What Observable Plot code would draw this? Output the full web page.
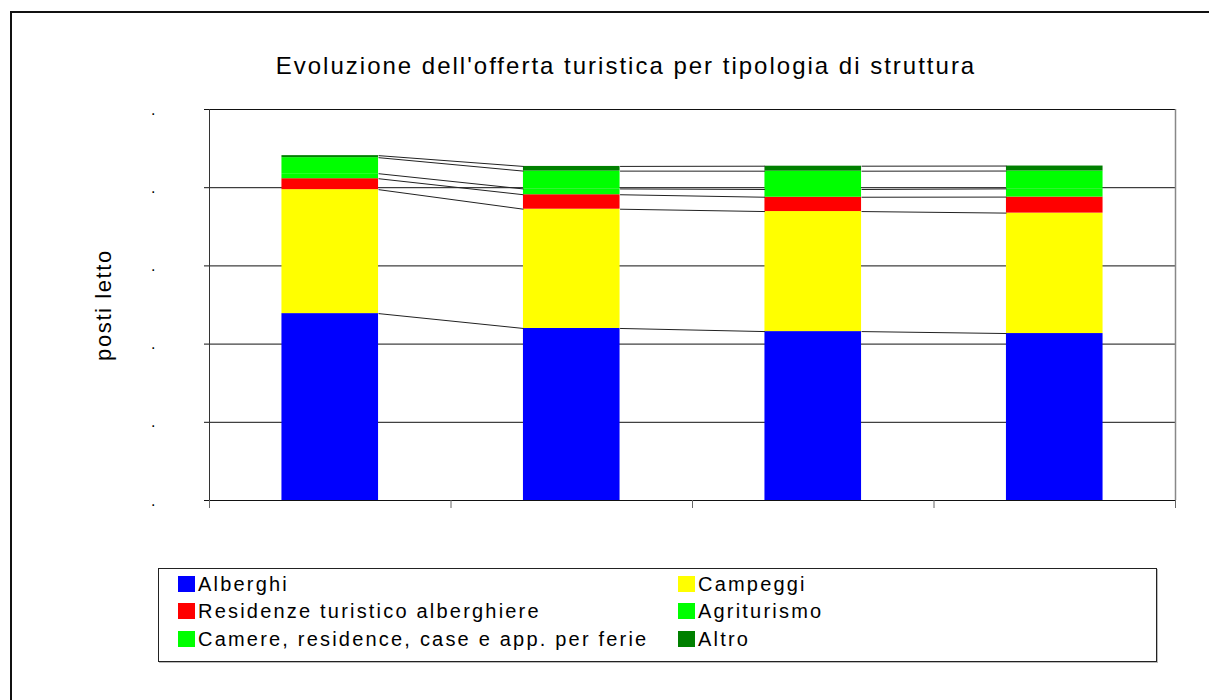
<!DOCTYPE html>
<html><head><meta charset="utf-8">
<script src="https://cdn.jsdelivr.net/npm/d3@7"></script>
<script src="https://cdn.jsdelivr.net/npm/@observablehq/plot@0.6"></script>
<style>
html,body{margin:0;padding:0}
body{width:1209px;height:700px;overflow:hidden;background:#fff;font-family:"Liberation Sans",Arial,sans-serif;position:relative}
#frame{position:absolute;left:10px;top:11px;width:1240px;height:740px;border:2px solid #111;box-sizing:border-box}
#title{position:absolute;left:0;width:1252px;top:51px;text-align:center;font-size:24px;letter-spacing:2px;color:#000;line-height:30px}
#chart{position:absolute;left:0;top:95px}
#legend{position:absolute;left:158px;top:568px;width:999px;height:94px;border:1px solid #222;box-shadow:1px 1px 0 #bbb;box-sizing:border-box}
.item{position:absolute;height:24px;line-height:24px;font-size:20px;letter-spacing:2.2px;color:#000;white-space:nowrap}
.sw{position:absolute;width:17px;height:16px}
</style></head>
<body>
<div id="frame"></div>
<div id="title">Evoluzione dell'offerta turistica per tipologia di struttura</div>
<div id="chart"></div>
<div id="legend"></div>
<script>
// ---- data ----
const periods = ["P1", "P2", "P3", "P4"];
const series = ["Alberghi", "Campeggi", "Residenze turistico alberghiere", "Agriturismo", "Camere, residence, case e app. per ferie", "Altro"];
const colors = ["#0000FF", "#FFFF00", "#FF0000", "#00FF00", "#00FF00", "#008000"];
const alberghi    = [23900, 22000, 21600, 21350];
const campeggi    = [15850, 15250, 15350, 15400];
const residenze   = [1400, 1850, 1830, 2050];
const agriturismo = [640, 740, 990, 1050];
const camere      = [2050, 2280, 2340, 2280];
const altro       = [260, 600, 640, 640];
const yTicks = [0, 10000, 20000, 30000, 40000, 50000];
const yTickLabel = ".";
const yLabel = "posti letto";

const values = [alberghi, campeggi, residenze, agriturismo, camere, altro];

// stacked rows
const half = 0.2;
const rows = [];
const tops = series.map(() => []);
periods.forEach((p, i) => {
  let acc = 0;
  series.forEach((s, k) => {
    const v = values[k][i];
    rows.push({period: p, series: s, x1: i - half, x2: i + half, y1: acc, y2: acc + v});
    acc += v;
    tops[k][i] = acc;
  });
});
// series lines between adjacent bars
const links = [];
series.forEach((s, k) => {
  for (let i = 0; i < periods.length - 1; i++) {
    links.push({x1: i + half, y1: tops[k][i], x2: i + 1 - half, y2: tops[k][i + 1]});
  }
});
const bounds = d3.range(periods.length + 1).map(i => i - 0.5);

const chart = Plot.plot({
  width: 1209, height: 425,
  marginLeft: 209, marginRight: 34, marginTop: 14, marginBottom: 20,
  style: {fontFamily: "Liberation Sans, Arial, sans-serif", background: "transparent", overflow: "visible"},
  x: {type: "linear", domain: [-0.5, periods.length - 0.5], axis: null},
  y: {domain: [0, 50000], axis: null},
  color: {domain: series, range: colors},
  marks: [
    Plot.ruleY(yTicks, {stroke: "#111", strokeWidth: 1}),
    Plot.rect(rows, {x1: "x1", x2: "x2", y1: "y1", y2: "y2", fill: "series"}),
    Plot.link(links, {x1: "x1", y1: "y1", x2: "x2", y2: "y2", stroke: "#222", strokeWidth: 1}),
    Plot.axisY({ticks: yTicks, tickSize: 5, tickPadding: 49, tickFormat: () => yTickLabel, fontSize: 16, stroke: "#111"}),
    Plot.axisX({ticks: bounds, tickSize: 8, tickFormat: () => "", stroke: "#666"}),
    Plot.ruleX([-0.5], {y1: 0, y2: 50000, stroke: "#333"}),
    Plot.ruleX([periods.length - 0.5], {y1: 0, y2: 50000, stroke: "#888", strokeWidth: 1.5}),
    Plot.text([yLabel], {text: d => d, frameAnchor: "left", textAnchor: "middle", dx: -106, rotate: -90, fontSize: 22, fill: "#000"})
  ]
});
document.getElementById("chart").appendChild(chart);
d3.select(chart).selectAll("text").filter(function() { return this.textContent === yLabel; }).attr("letter-spacing", "1.6px");

// legend
const legend = document.getElementById("legend");
const rowCenters = [15, 42, 70];
series.forEach((s, k) => {
  const col = k % 2, row = Math.floor(k / 2);
  const sw = document.createElement("div");
  sw.className = "sw";
  sw.style.background = colors[k];
  sw.style.left = (col === 0 ? 19 : 519) + "px";
  sw.style.top = (rowCenters[row] - 8) + "px";
  legend.appendChild(sw);
  const it = document.createElement("div");
  it.className = "item";
  it.textContent = s;
  it.style.left = (col === 0 ? 39 : 539) + "px";
  it.style.top = (rowCenters[row] - 12) + "px";
  legend.appendChild(it);
});
</script>
</body></html>
